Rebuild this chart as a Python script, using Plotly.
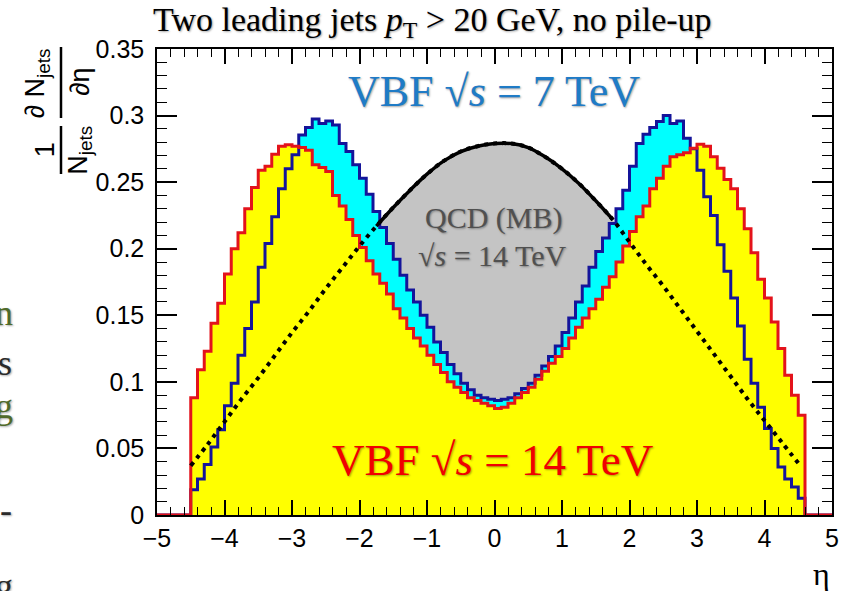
import numpy as np
import plotly.graph_objects as go

# ---------------------------------------------------------------- data
# Histogram binning: 0.1 wide bins on [-5, 5]; filled bins start at eta = -4.5
ETA_MIN, ETA_MAX, BIN_W = -5.0, 5.0, 0.1
FIRST_FILLED = -4.5

# VBF, sqrt(s) = 14 TeV (red outline, yellow fill), bins from -4.5 to 4.6
vbf14 = [
    0.088, 0.109, 0.123, 0.144, 0.159, 0.181, 0.200, 0.212, 0.230, 0.246,
    0.259, 0.262, 0.271, 0.277, 0.278, 0.277, 0.276, 0.274, 0.263, 0.261,
    0.258, 0.240, 0.232, 0.222, 0.210, 0.201, 0.191, 0.181, 0.174, 0.166,
    0.155, 0.148, 0.140, 0.133, 0.127, 0.120, 0.113, 0.107, 0.100, 0.096,
    0.092, 0.088, 0.086, 0.084, 0.082, 0.080, 0.081, 0.084, 0.088, 0.092,
    0.096, 0.102, 0.108, 0.114, 0.119, 0.125, 0.133, 0.141, 0.148, 0.155,
    0.162, 0.171, 0.179, 0.190, 0.202, 0.213, 0.224, 0.232, 0.245, 0.253,
    0.262, 0.269, 0.2705, 0.272, 0.2755, 0.2785, 0.277, 0.269, 0.2605, 0.252,
    0.245, 0.230, 0.215, 0.197, 0.177, 0.163, 0.145, 0.125, 0.105, 0.090,
    0.075,
]

# VBF, sqrt(s) = 7 TeV (blue outline, cyan fill), same bins
vbf7 = [
    0.019, 0.027, 0.038, 0.051, 0.064, 0.082, 0.099, 0.120, 0.140, 0.160,
    0.186, 0.204, 0.224, 0.245, 0.260, 0.2705, 0.2855, 0.291, 0.2975, 0.294,
    0.296, 0.293, 0.279, 0.273, 0.263, 0.253, 0.241, 0.228, 0.216, 0.204,
    0.192, 0.180, 0.169, 0.160, 0.150, 0.141, 0.130, 0.122, 0.113, 0.106,
    0.099, 0.094, 0.090, 0.088, 0.087, 0.086, 0.087, 0.088, 0.091, 0.095,
    0.099, 0.105, 0.112, 0.119, 0.127, 0.137, 0.148, 0.160, 0.172, 0.186,
    0.198, 0.208, 0.219, 0.230, 0.244, 0.262, 0.279, 0.286, 0.291, 0.2955,
    0.300, 0.294, 0.296, 0.283, 0.275, 0.259, 0.239, 0.225, 0.203, 0.183,
    0.163, 0.142, 0.117, 0.099, 0.081, 0.065, 0.050, 0.036, 0.027, 0.021,
    0.0125,
]

# QCD minimum bias, sqrt(s) = 14 TeV: smooth reference curve
qcd_eta = [
    -4.5, -4.25, -4.0, -3.75, -3.5, -3.25, -3.0, -2.75, -2.5, -2.25,
    -2.0, -1.75, -1.5, -1.25, -1.0, -0.75, -0.5, -0.25, 0.0, 0.25,
    0.5, 0.75, 1.0, 1.25, 1.5, 1.75, 2.0, 2.25, 2.5, 2.75,
    3.0, 3.25, 3.5, 3.75, 4.0, 4.25, 4.5,
]
qcd_val = [
    0.037, 0.053, 0.070, 0.087, 0.103, 0.120, 0.137, 0.153, 0.170, 0.186,
    0.202, 0.217, 0.231, 0.244, 0.256, 0.266, 0.273, 0.277, 0.279, 0.279,
    0.276, 0.269, 0.260, 0.249, 0.236, 0.222, 0.205, 0.188, 0.172, 0.155,
    0.138, 0.121, 0.104, 0.087, 0.071, 0.055, 0.039,
]
QCD_SOLID_MAX = 1.75   # curve drawn solid where it sits above the 7 TeV histogram

# Axis ticks
x_ticks = [-5, -4, -3, -2, -1, 0, 1, 2, 3, 4, 5]
x_tick_text = ["\u22125", "\u22124", "\u22123", "\u22122", "\u22121", "0", "1", "2", "3", "4", "5"]
y_ticks = [0, 0.05, 0.1, 0.15, 0.2, 0.25, 0.3, 0.35]
y_tick_text = ["0", "0.05", "0.1", "0.15", "0.2", "0.25", "0.3", "0.35"]

# ---------------------------------------------------------------- helpers
n_bins = int(round((ETA_MAX - ETA_MIN) / BIN_W))
edges = np.round(ETA_MIN + BIN_W * np.arange(n_bins + 1), 2)
lead = int(round((FIRST_FILLED - ETA_MIN) / BIN_W))


def full_hist(vals):
    """Pad the filled bins with empty ones and repeat the last value for a step path."""
    counts = np.zeros(n_bins)
    counts[lead:lead + len(vals)] = vals
    return np.append(counts, counts[-1])


h14 = full_hist(vbf14)
h7 = full_hist(vbf7)

W_FIG, H_FIG = 848, 591
L, R, T, B = 157, 9, 49, 76
PW, PH = W_FIG - L - R, H_FIG - T - B


def px(x):
    return (x - L) / PW


def py(y):
    return (H_FIG - B - y) / PH


RED_LINE = "#e3131b"
BLUE_LINE = "#14149a"
SANS = "Liberation Sans, Arial, sans-serif"
SERIF = "Liberation Serif, Times New Roman, serif"
SHADOW = "1px 1px 2px rgba(0,0,0,0.35)"

fig = go.Figure()

# QCD grey area
fig.add_trace(go.Scatter(x=qcd_eta, y=qcd_val, mode="lines", line=dict(width=0, shape="spline"),
                         fill="tozeroy", fillcolor="#c4c4c4", hoverinfo="skip", showlegend=False))
# 7 TeV cyan area
fig.add_trace(go.Scatter(x=edges, y=h7, mode="lines", line=dict(width=0, shape="hv"),
                         fill="tozeroy", fillcolor="#00ffff", showlegend=False))
# 14 TeV yellow area
fig.add_trace(go.Scatter(x=edges, y=h14, mode="lines", line=dict(width=0, shape="hv"),
                         fill="tozeroy", fillcolor="#ffff00", showlegend=False))
# outlines
fig.add_trace(go.Scatter(x=edges, y=h7, mode="lines", line=dict(color=BLUE_LINE, width=3, shape="hv"),
                         showlegend=False))
fig.add_trace(go.Scatter(x=edges, y=h14, mode="lines", line=dict(color=RED_LINE, width=3, shape="hv"),
                         showlegend=False))
# QCD curve: dotted everywhere, solid on the central part
fig.add_trace(go.Scatter(x=qcd_eta, y=qcd_val, mode="lines",
                         line=dict(color="black", width=4, dash="4px,5px", shape="spline"),
                         showlegend=False))
mid = [i for i, e in enumerate(qcd_eta) if abs(e) <= QCD_SOLID_MAX]
fig.add_trace(go.Scatter(x=[qcd_eta[i] for i in mid], y=[qcd_val[i] for i in mid], mode="lines",
                         line=dict(color="black", width=3.5, shape="spline"), showlegend=False))

axis_common = dict(showline=True, linecolor="black", linewidth=1.5, mirror="ticks",
                   ticks="inside", tickcolor="black", tickwidth=1.5, showgrid=False,
                   zeroline=False, tickfont=dict(family=SANS, size=25, color="black"))

fig.update_xaxes(range=[ETA_MIN, ETA_MAX], tickvals=x_ticks, ticktext=x_tick_text, ticklen=15,
                 minor=dict(dtick=0.2, tick0=ETA_MIN, ticks="inside", ticklen=8,
                            tickcolor="black", tickwidth=1.2),
                 **axis_common)
fig.update_yaxes(range=[0, 0.35], tickvals=y_ticks, ticktext=y_tick_text, ticklen=20,
                 ticklabelstandoff=6,
                 minor=dict(dtick=0.01, tick0=0, ticks="inside", ticklen=10,
                            tickcolor="black", tickwidth=1.2),
                 **axis_common)

ann = []


def text(x, y, s, size, color="black", family=SERIF, angle=0, xanchor="center", shadow=None):
    f = dict(family=family, size=size, color=color)
    if shadow:
        f["shadow"] = shadow
    ann.append(dict(x=px(x), y=py(y), xref="paper", yref="paper", text=s, showarrow=False,
                    font=f, textangle=angle, xanchor=xanchor, yanchor="middle"))


# headline
text(435, 22, "Two leading jets <i>p</i><sub>T</sub> &gt; 20 GeV, no pile-up", 34, shadow=SHADOW)
# in-plot labels
text(497, 91, "VBF \u221a<i>s</i> = 7 TeV", 44, color="#1f7bc6", shadow=SHADOW)
text(497, 218, "QCD (MB)", 30, color="#505050", shadow=SHADOW)
text(496, 255, "\u221a<i>s</i> = 14 TeV", 30, color="#505050", shadow=SHADOW)
text(496, 460, "VBF \u221a<i>s</i> = 14 TeV", 45, color="#f00000", shadow=SHADOW)
# x-axis title
text(828, 574, "\u03b7", 32, family=SERIF)
# y-axis title: (1/N_jets) dN_jets/d(eta), built from rotated pieces
text(36, 83, "\u2202 N<sub>jets</sub>", 27, family=SANS, angle=-90)
text(79, 82, "\u2202\u03b7", 27, family=SANS, angle=-90)
text(44, 150, "1", 27, family=SANS, angle=-90)
text(79, 150, "N<sub>jets</sub>", 27, family=SANS, angle=-90)
# cut-off words at the left margin
GREEN = "#4f6a2a"
DARK = "#2a2a2a"
text(14, 313, "n", 36, color=GREEN, xanchor="right", shadow=SHADOW)
text(13, 363, "s", 36, color=DARK, xanchor="right", shadow=SHADOW)
text(14, 406, "g", 36, color=GREEN, xanchor="right", shadow=SHADOW)
text(13, 510, "-", 36, color=DARK, xanchor="right", shadow=SHADOW)
text(14, 586, "g", 36, color=DARK, xanchor="right", shadow=SHADOW)

shapes = [
    dict(type="line", xref="paper", yref="paper", x0=px(60), x1=px(60), y0=py(47), y1=py(118),
         line=dict(color="black", width=2.5)),
    dict(type="line", xref="paper", yref="paper", x0=px(60), x1=px(60), y0=py(126), y1=py(174),
         line=dict(color="black", width=2.5)),
]

fig.update_layout(width=W_FIG, height=H_FIG, margin=dict(l=L, r=R, t=T, b=B),
                  paper_bgcolor="white", plot_bgcolor="white",
                  annotations=ann, shapes=shapes, showlegend=False)

fig.write_html("out.html")
